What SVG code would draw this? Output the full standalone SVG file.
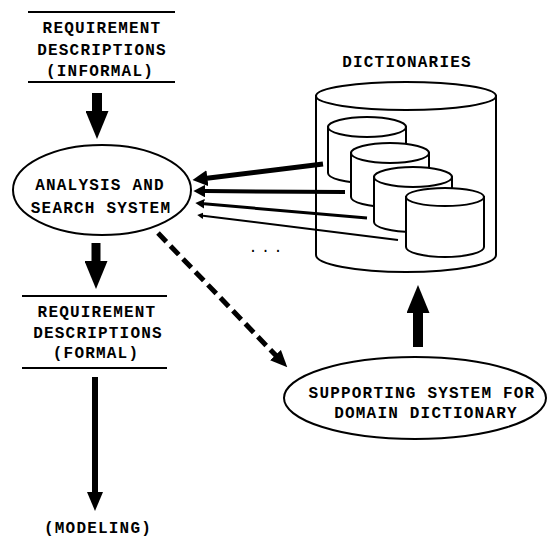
<svg xmlns="http://www.w3.org/2000/svg" width="547" height="538" viewBox="0 0 547 538">
<style>
  .t { font-family: "Liberation Mono", "Courier New", monospace; font-weight: bold; font-size: 16px; letter-spacing: 1.2px; fill: #000; text-anchor: middle; }
  .rule { stroke: #000; stroke-width: 2; fill: none; }
  .shape { stroke: #000; stroke-width: 2; fill: #fff; }
  .conn { stroke: #000; fill: none; }
</style>
<defs>
  <marker id="mBig" viewBox="0 0 28 23" refX="1" refY="11.5" markerWidth="28" markerHeight="23" markerUnits="userSpaceOnUse" orient="auto">
    <path d="M0,0 L28,11.5 L0,23 Z" fill="#000"/>
  </marker>
  <marker id="mMed" viewBox="0 0 19 16" refX="1" refY="8" markerWidth="19" markerHeight="16" markerUnits="userSpaceOnUse" orient="auto">
    <path d="M0,0 L19,8 L0,16 Z" fill="#000"/>
  </marker>
  <marker id="mDash" viewBox="0 0 17 15" refX="1" refY="7.5" markerWidth="17" markerHeight="15" markerUnits="userSpaceOnUse" orient="auto">
    <path d="M0,0 L17,7.5 L0,15 Z" fill="#000"/>
  </marker>
  <marker id="mThin" viewBox="0 0 30 32" refX="1" refY="16" markerWidth="3" markerHeight="3.2" markerUnits="strokeWidth" orient="auto" preserveAspectRatio="none">
    <path d="M0,0 L30,16 L0,32 Z" fill="#000"/>
  </marker>
</defs>

<g id="req-informal">
  <line class="rule" x1="28" y1="12" x2="175" y2="12"/>
  <text class="t" x="102" y="33">REQUIREMENT</text>
  <text class="t" x="102" y="55">DESCRIPTIONS</text>
  <text class="t" x="100" y="76">(INFORMAL)</text>
  <line class="rule" x1="28" y1="82" x2="175" y2="82"/>
</g>

<g id="analysis">
  <ellipse class="shape" cx="102" cy="190" rx="89" ry="45"/>
  <text class="t" x="100" y="190">ANALYSIS AND</text>
  <text class="t" x="101" y="213">SEARCH SYSTEM</text>
</g>

<g id="req-formal">
  <line class="rule" x1="22" y1="296" x2="167" y2="296"/>
  <text class="t" x="97" y="317">REQUIREMENT</text>
  <text class="t" x="98" y="338">DESCRIPTIONS</text>
  <text class="t" x="96" y="358">(FORMAL)</text>
  <line class="rule" x1="22" y1="368" x2="167" y2="368"/>
</g>

<g id="modeling">
  <text class="t" x="98" y="533">(MODELING)</text>
</g>

<g id="dictionaries">
  <text class="t" x="407" y="67">DICTIONARIES</text>
  <path class="shape" d="M316,96 V255 A90,17 0 0 0 496,255 V96 Z"/>
  <ellipse class="shape" cx="406" cy="96" rx="90" ry="14"/>
  <g id="dict1">
    <path class="shape" d="M328,127 V173 A39,10 0 0 0 406,173 V127 Z"/>
    <ellipse class="shape" cx="367" cy="127" rx="39" ry="10"/>
  </g>
  <g id="dict2">
    <path class="shape" d="M351,153 V197 A39,10 0 0 0 429,197 V153 Z"/>
    <ellipse class="shape" cx="390" cy="153" rx="39" ry="10"/>
  </g>
  <g id="dict3">
    <path class="shape" d="M374,177 V222 A39,10 0 0 0 452,222 V177 Z"/>
    <ellipse class="shape" cx="413" cy="177" rx="39" ry="10"/>
  </g>
  <g id="dict4">
    <path class="shape" d="M406,197 V247 A39,10 0 0 0 484,247 V197 Z"/>
    <ellipse class="shape" cx="445" cy="197" rx="39" ry="9"/>
  </g>
</g>

<g id="ellipsis">
  <text x="248.5" y="252" style="font-family: 'Liberation Mono', monospace; font-size: 15px; letter-spacing: 3.5px; fill: #000;">...</text>
</g>

<g id="supporting">
  <ellipse class="shape" cx="415" cy="398" rx="131" ry="41"/>
  <text class="t" x="422" y="398">SUPPORTING SYSTEM FOR</text>
  <text class="t" x="426" y="418">DOMAIN DICTIONARY</text>
</g>

<g id="connectors">
  <line class="conn" x1="97" y1="93" x2="97" y2="112" stroke-width="10" marker-end="url(#mBig)"/>
  <line class="conn" x1="96" y1="243" x2="96" y2="262" stroke-width="9" marker-end="url(#mBig)"/>
  <line class="conn" x1="95" y1="377" x2="95" y2="493" stroke-width="6" marker-end="url(#mMed)"/>
  <line class="conn" x1="418" y1="347" x2="418" y2="312" stroke-width="10" marker-end="url(#mBig)"/>
  <line class="conn" x1="323" y1="164" x2="206.9" y2="178.2" stroke-width="5" marker-end="url(#mThin)"/>
  <line class="conn" x1="345" y1="192" x2="205" y2="191.1" stroke-width="4" marker-end="url(#mThin)"/>
  <line class="conn" x1="367" y1="218" x2="204" y2="203.8" stroke-width="3" marker-end="url(#mThin)"/>
  <line class="conn" x1="398" y1="240" x2="203" y2="215.7" stroke-width="2" marker-end="url(#mThin)"/>
  <line class="conn" x1="158" y1="233" x2="276.2" y2="355.8" stroke-width="5" stroke-dasharray="12 6" marker-end="url(#mDash)"/>
</g>
</svg>
